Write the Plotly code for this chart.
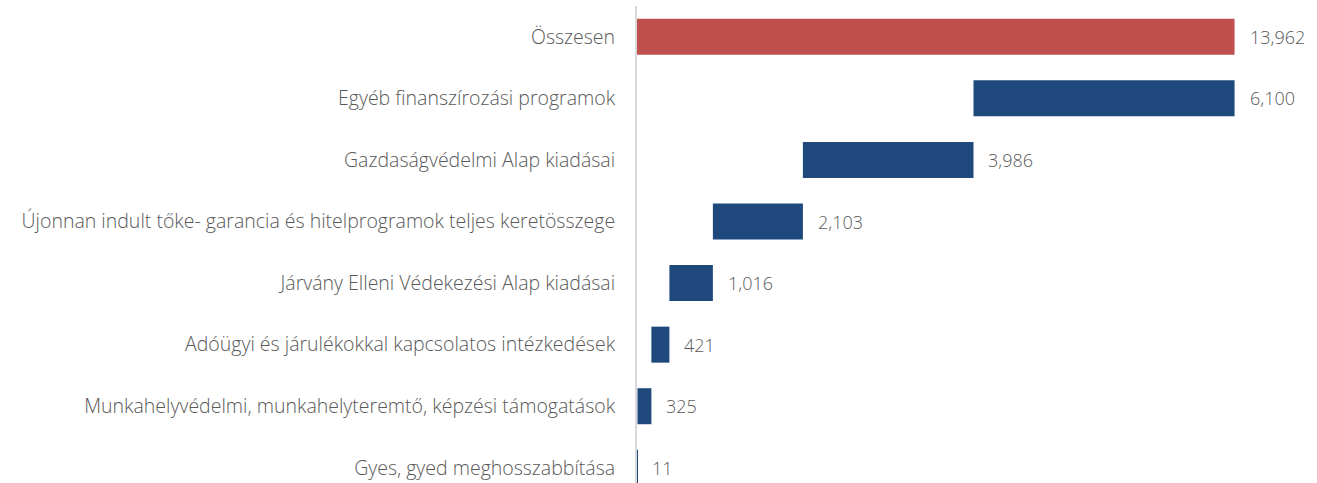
import plotly.graph_objects as go

categories = [
    "Összesen",
    "Egyéb finanszírozási programok",
    "Gazdaságvédelmi Alap kiadásai",
    "Újonnan indult tőke- garancia és hitelprogramok teljes keretösszege",
    "Járvány Elleni Védekezési Alap kiadásai",
    "Adóügyi és járulékokkal kapcsolatos intézkedések",
    "Munkahelyvédelmi, munkahelyteremtő, képzési támogatások",
    "Gyes, gyed meghosszabbítása",
]
values = [13962, 6100, 3986, 2103, 1016, 421, 325, 11]
labels = ["13,962", "6,100", "3,986", "2,103", "1,016", "421", "325", "11"]

RED = "#C0504D"
BLUE = "#1F497D"
GRAY = "#595959"

# waterfall bases: total starts at 0, components stack down from the total
bases = [0]
running = values[0]
for v in values[1:]:
    running -= v
    bases.append(running)

colors = [RED] + [BLUE] * (len(values) - 1)

fig = go.Figure()
fig.add_trace(go.Bar(
    y=categories, x=values, base=bases, orientation="h",
    marker=dict(color=colors, line=dict(width=0)),
    width=0.585,
    hoverinfo="skip",
))

for c, v, b, t in zip(categories, values, bases, labels):
    fig.add_annotation(
        x=b + v, y=c, text=t, showarrow=False, xanchor="left", xshift=13,
        font=dict(family="Open Sans", size=18, color=GRAY, weight=300),
    )

fig.update_layout(
    width=1317, height=483,
    margin=dict(l=637, r=38, t=6, b=0),
    plot_bgcolor="white", paper_bgcolor="white",
    showlegend=False,
    font=dict(family="Open Sans", size=18, color=GRAY, weight=300),
    xaxis=dict(range=[0, 15000], showgrid=False, zeroline=False,
               showticklabels=False, ticks=""),
    yaxis=dict(type="category", range=[7.247, -0.5], showgrid=False,
               zeroline=False, showline=True, linecolor="#d9d9d9", linewidth=2,
               ticks="outside", ticklen=16, tickcolor="rgba(0,0,0,0)",
               tickfont=dict(family="Open Sans", size=19.5, color=GRAY, weight=300)),
)

fig.write_html("out.html", config={"displayModeBar": False},
               post_script="document.body.style.margin='0';document.body.style.padding='0';")
